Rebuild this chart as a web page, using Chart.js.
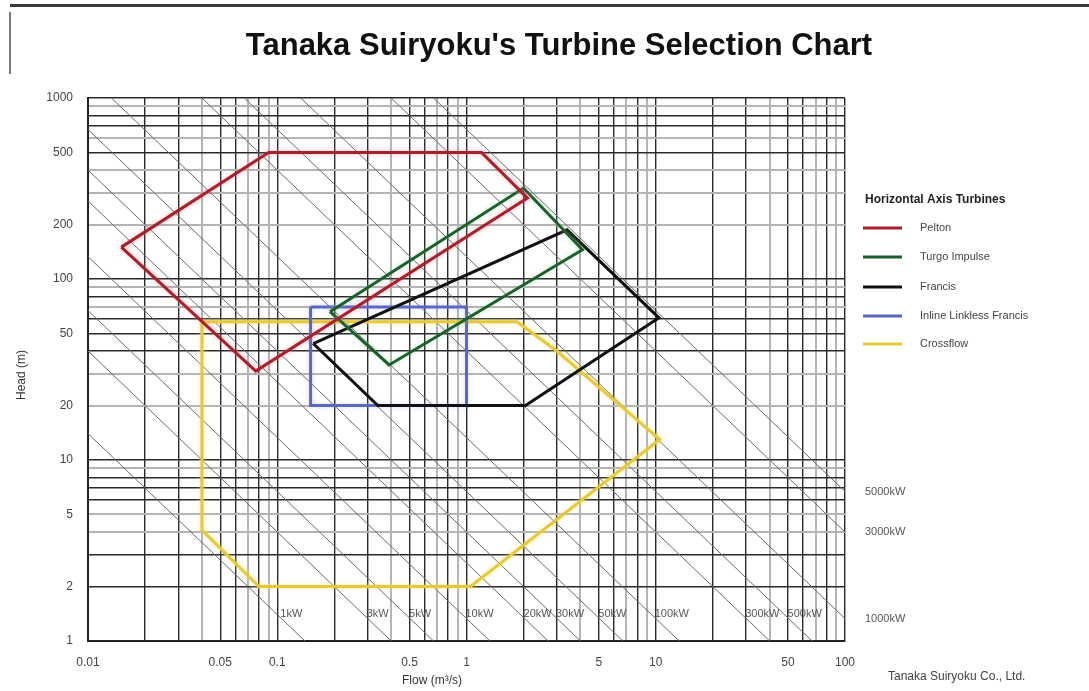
<!DOCTYPE html>
<html><head><meta charset="utf-8">
<script src="https://cdn.jsdelivr.net/npm/chart.js@4/dist/chart.umd.min.js"></script>
<style>html,body{margin:0;padding:0;background:#fff}</style>
</head><body>
<canvas id="c" width="1089" height="691"></canvas>
<script>
// ---- data ----
const xTickLabels = [0.01, 0.05, 0.1, 0.5, 1, 5, 10, 50, 100];
const yTickLabels = [1, 2, 5, 10, 20, 50, 100, 200, 500, 1000];

const peltonQ = [0.015, 0.09, 1.2, 2.1, 0.077, 0.015];
const peltonH = [150, 500, 500, 280, 31, 150];
const turgoQ = [0.19, 2.0, 4.1, 0.39, 0.19];
const turgoH = [66, 318, 145, 33.5, 66];
const francisQ = [0.155, 3.4, 10.4, 2.05, 0.34, 0.155];
const francisH = [44, 187, 61, 20, 20, 44];
const inlineQ = [0.15, 1.0, 1.0, 0.15, 0.15];
const inlineH = [70, 70, 20, 20, 70];
const crossQ = [0.04, 1.85, 3.0, 10.5, 1.05, 0.08, 0.04, 0.04];
const crossH = [58, 58, 40, 13, 2, 2, 4.1, 58];

// iso-power lines: label, head at Q=0.01 and head at Q=100
const powerLabels = ['1kW','3kW','5kW','10kW','20kW','30kW','50kW','100kW','300kW','500kW','1000kW','3000kW','5000kW'];
const powerStartH = [14, 40, 67, 133, 270, 400, 670, 1330, 4000, 6700, 13300, 40000, 67000];
const powerEndH = [0.0014, 0.004, 0.0067, 0.0133, 0.027, 0.04, 0.067, 0.133, 0.4, 0.67, 1.33, 4, 6.7];
const powerQEnds = [0.01, 100];

const legendTitle = 'Horizontal Axis Turbines';
const turbineNames = ['Pelton', 'Turgo Impulse', 'Francis', 'Inline Linkless Francis', 'Crossflow'];

// ---- build ----
const pts = (q, h) => q.map((v, i) => ({x: v, y: h[i]}));
const turbineColors = ['#a8202c', '#1e5e2c', '#111111', '#5a68c0', '#e6c83a'];
const haloColors = ['rgba(240,120,130,0.55)', 'rgba(120,210,140,0.45)', 'rgba(0,0,0,0)', 'rgba(150,160,240,0.45)', 'rgba(250,230,120,0.7)'];
const turbineData = [pts(peltonQ, peltonH), pts(turgoQ, turgoH), pts(francisQ, francisH), pts(inlineQ, inlineH), pts(crossQ, crossH)];

const datasets = [];
turbineData.forEach((d, i) => {
  datasets.push({label: turbineNames[i], data: d, showLine: true, borderColor: turbineColors[i],
    borderWidth: 3, pointRadius: 0, fill: false, order: 1, halo: haloColors[i], tension: 0});
});
powerLabels.forEach((lab, i) => {
  datasets.push({label: lab, power: true, data: [{x: powerQEnds[0], y: powerStartH[i]}, {x: powerQEnds[1], y: powerEndH[i]}],
    showLine: true, borderColor: '#6a6a6a', borderWidth: 1, pointRadius: 0, order: 10});
});

const FONT = '"Liberation Sans", Arial, sans-serif';
const sig = v => { const e = Math.floor(Math.log10(v) + 1e-9); return Math.round(v / Math.pow(10, e)); };
const xDarkSig = [1, 2, 3, 5, 6, 8];
const yDarkVals = [1, 2, 3, 6, 7, 8, 10, 40, 50, 60, 80, 100, 500, 700, 800, 1000];
const isYDark = v => yDarkVals.some(d => Math.abs(d - v) / d < 1e-6);

function logTicks(min, max) {
  const out = [];
  for (let e = Math.round(Math.log10(min)); e < Math.round(Math.log10(max)); e++) {
    for (let s = 1; s <= 9; s++) out.push(+(s * Math.pow(10, e)).toPrecision(6));
  }
  out.push(max);
  return out;
}
const inList = (v, list) => list.some(d => Math.abs(d - v) / d < 1e-6);

const decor = {
  id: 'decor',
  beforeDraw(chart) {
    const c = chart.ctx;
    c.save();
    c.fillStyle = '#fff'; c.fillRect(0, 0, chart.width, chart.height);
    c.fillStyle = '#3a3a3a'; c.fillRect(10, 4, 1079, 3);
    c.fillStyle = '#777'; c.fillRect(9, 12, 2, 62);
    c.restore();
  },
  beforeDatasetDraw(chart, args) {
    const ds = chart.data.datasets[args.index];
    if (ds.halo) { chart.ctx.save(); chart.ctx.shadowColor = ds.halo; chart.ctx.shadowBlur = 5; }
  },
  afterDatasetDraw(chart, args) {
    const ds = chart.data.datasets[args.index];
    if (ds.halo) chart.ctx.restore();
  },
  afterDraw(chart) {
    const c = chart.ctx, xs = chart.scales.x, ys = chart.scales.y;
    c.save();
    // title
    c.fillStyle = '#111'; c.font = 'bold 31px ' + FONT; c.textAlign = 'center'; c.textBaseline = 'middle';
    c.fillText("Tanaka Suiryoku's Turbine Selection Chart", 559, 46);
    // axis titles
    c.font = '12px ' + FONT; c.fillStyle = '#333';
    c.fillText('Flow (m\u00B3/s)', 432, 681);
    c.save(); c.translate(22, 375); c.rotate(-Math.PI / 2); c.fillText('Head (m)', 0, 0); c.restore();
    // footer
    c.textAlign = 'left'; c.font = '12px ' + FONT; c.fillStyle = '#444';
    c.fillText('Tanaka Suiryoku Co., Ltd.', 888, 677);
    // power labels
    c.font = '11px ' + FONT; c.fillStyle = '#555';
    chart.data.datasets.forEach(ds => {
      if (!ds.power) return;
      const a = ds.data[0], b = ds.data[1];
      if (b.y < 1) {
        const hRow = 1.45;
        const q = a.x * a.y / hRow;
        c.fillText(ds.label, xs.getPixelForValue(q) + 6, ys.getPixelForValue(hRow) + 2);
      } else {
        c.fillText(ds.label, 865, ys.getPixelForValue(b.y));
      }
    });
    // legend
    c.font = 'bold 12px ' + FONT; c.fillStyle = '#222';
    c.fillText(legendTitle, 865, 200);
    c.font = '11px ' + FONT; c.fillStyle = '#444';
    const rows = [228, 257, 287, 316, 344];
    turbineNames.forEach((n, i) => {
      const ds = chart.data.datasets[i];
      c.strokeStyle = ds.borderColor; c.lineWidth = 3;
      c.beginPath(); c.moveTo(863, rows[i]); c.lineTo(902, rows[i]); c.stroke();
      c.fillText(n, 920, rows[i]);
    });
    c.restore();
  }
};

new Chart(document.getElementById('c'), {
  type: 'scatter',
  data: {datasets},
  plugins: [decor],
  options: {
    responsive: false, animation: false, devicePixelRatio: 1,
    layout: {padding: {left: 0, top: 98, right: 244, bottom: 0}},
    plugins: {legend: {display: false}, title: {display: false}, tooltip: {enabled: false}},
    scales: {
      x: {
        type: 'logarithmic', min: 0.01, max: 100,
        afterBuildTicks: s => { s.ticks = logTicks(0.01, 100).map(v => ({value: v})); },
        afterFit: s => { s.height = 50; },
        border: {color: '#222', width: 2},
        grid: {drawTicks: false,
          color: c => inList(c.tick.value, [0.01, 0.1, 1, 10, 100]) || xDarkSig.includes(sig(c.tick.value)) ? '#2a2a2a' : '#b4b4b4',
          lineWidth: c => xDarkSig.includes(sig(c.tick.value)) ? 1.4 : 2},
        ticks: {autoSkip: false, maxRotation: 0, padding: 14, color: '#444', font: {family: FONT, size: 12},
          callback: v => inList(v, xTickLabels) ? String(v) : ''}
      },
      y: {
        type: 'logarithmic', min: 1, max: 1000,
        afterBuildTicks: s => { s.ticks = logTicks(1, 1000).map(v => ({value: v})); },
        afterFit: s => { s.width = 88; },
        border: {color: '#222', width: 2},
        grid: {drawTicks: false,
          color: c => isYDark(c.tick.value) ? '#2a2a2a' : '#b4b4b4',
          lineWidth: c => isYDark(c.tick.value) ? 1.4 : 2},
        ticks: {autoSkip: false, padding: 15, color: '#444', font: {family: FONT, size: 12},
          callback: v => inList(v, yTickLabels) ? String(v) : ''}
      }
    }
  }
});
</script>
</body></html>
